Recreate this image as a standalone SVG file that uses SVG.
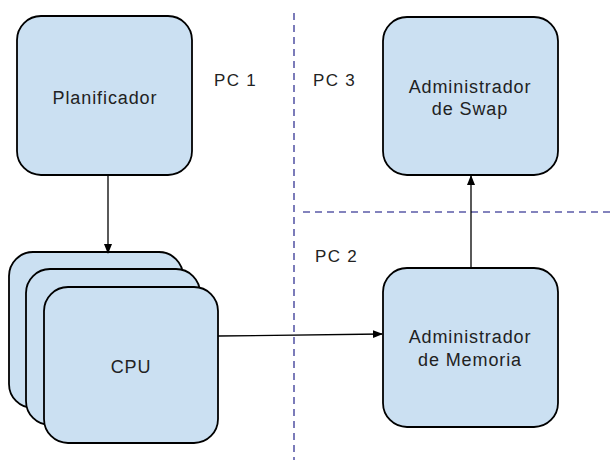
<svg xmlns="http://www.w3.org/2000/svg" width="614" height="460" viewBox="0 0 614 460">
<defs>
<style>
.box{fill:#cbe0f2;stroke:#000;stroke-width:1.8}
.lbl{font-family:"Liberation Sans",Arial,sans-serif;font-size:18px;fill:#222;text-anchor:middle;letter-spacing:0.9px}
.pc{font-family:"Liberation Sans",Arial,sans-serif;font-size:17px;fill:#222;letter-spacing:1.3px}
.div{stroke:#5b5ba8;stroke-width:1.6;stroke-dasharray:7 5;fill:none}
.conn{stroke:#000;stroke-width:1.3;fill:none;marker-end:url(#arr)}
</style>
<marker id="arr" markerWidth="10" markerHeight="10" refX="9" refY="5" orient="auto" markerUnits="userSpaceOnUse">
<path d="M0,1 L10,5 L0,9 Z" fill="#000"/>
</marker>
</defs>
<rect width="614" height="460" fill="#fff"/>
<g id="dividers">
<line class="div" x1="294" y1="13" x2="294" y2="460"/>
<line class="div" x1="303" y1="212" x2="614" y2="212"/>
</g>
<g id="labels">
<text class="pc" x="214" y="86">PC 1</text>
<text class="pc" x="313" y="86">PC 3</text>
<text class="pc" x="315" y="262">PC 2</text>
</g>
<g id="planificador">
<rect class="box" x="17" y="16" width="175" height="159" rx="24"/>
<text class="lbl" x="105" y="104">Planificador</text>
</g>
<g id="cpu">
<rect class="box" x="9" y="252" width="174" height="156" rx="24"/>
<rect class="box" x="26" y="269" width="174" height="156" rx="24"/>
<rect class="box" x="44" y="287" width="174" height="156" rx="24"/>
<text class="lbl" x="131" y="373">CPU</text>
</g>
<g id="swap">
<rect class="box" x="383" y="17" width="175" height="158" rx="24"/>
<text class="lbl" x="470" y="93">Administrador</text>
<text class="lbl" x="470" y="115">de Swap</text>
</g>
<g id="memoria">
<rect class="box" x="383" y="268" width="175" height="159" rx="24"/>
<text class="lbl" x="470" y="343">Administrador</text>
<text class="lbl" x="470" y="366">de Memoria</text>
</g>
<g id="connectors">
<line class="conn" x1="108" y1="175" x2="108" y2="253"/>
<line class="conn" x1="218" y1="336" x2="382" y2="334"/>
<line class="conn" x1="471" y1="268" x2="471" y2="176"/>
</g>
</svg>
